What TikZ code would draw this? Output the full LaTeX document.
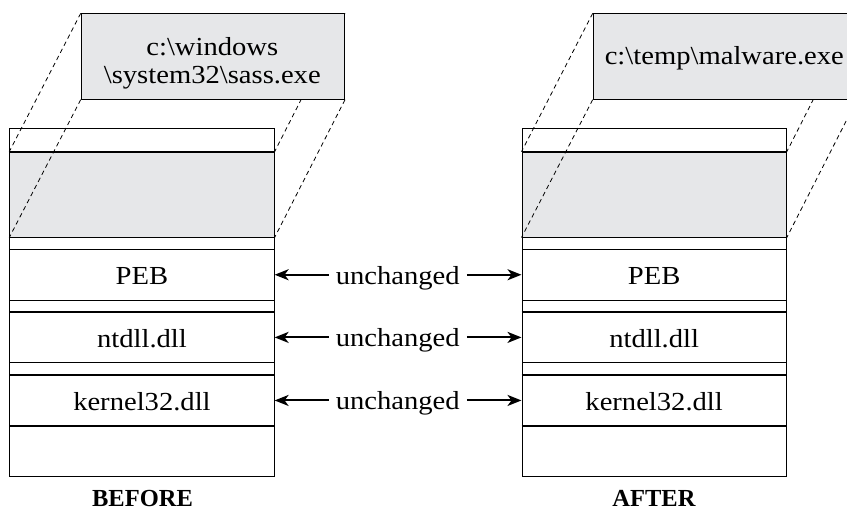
\documentclass[tikz,border=0pt]{standalone}
\usepackage{fontspec}
\setmainfont{Liberation Serif}[FakeStretch=1.1]
\newfontfamily\capfont{Liberation Serif}
\usetikzlibrary{arrows.meta}
\definecolor{shade}{RGB}{230,231,233}
\begin{document}
\begin{tikzpicture}[x=1pt,y=-1pt,
  font=\fontsize{26}{27.7}\selectfont,
  thinline/.style={line width=0.8pt},
  thickline/.style={line width=1.8pt},
  guide/.style={dash pattern=on 4.5pt off 3.5pt, line width=0.8pt},
  sect/.style={draw, thinline, minimum width=264.5pt, inner sep=0pt, anchor=north west},
  labsect/.style={sect, text height=19.4pt, text depth=0pt},
  namebox/.style={draw, line width=1pt, fill=shade, minimum width=263.3pt, minimum height=85.4pt, inner sep=0pt, anchor=north west},
  txt/.style={anchor=base},
  twoway/.style={line width=2pt, -{Stealth[length=14pt,width=11pt,inset=4pt]}},
  caption/.style={anchor=base, inner sep=0pt, font=\capfont\bfseries\fontsize{24.5}{28}\selectfont}]
\useasboundingbox (0,0) rectangle (847,511);
\clip (0,0) rectangle (847,511);

% ---------- left column ----------
\node[sect, minimum height=23.4pt] (Ltop) at (9.3,128.3) {};
\node[sect, fill=shade, minimum height=85pt] (Limg) at (9.3,151.7) {};
\node[sect, minimum height=12pt] (Lg1) at (9.3,236.7) {};
\node[labsect, minimum height=51.3pt] (Lpeb) at (9.3,248.7) {PEB};
\node[sect, minimum height=11.7pt] (Lg2) at (9.3,300) {};
\node[labsect, minimum height=50.6pt] (Lnt) at (9.3,311.7) {ntdll.dll};
\node[sect, minimum height=12.5pt] (Lg3) at (9.3,362.3) {};
\node[labsect, minimum height=50.5pt] (Lk) at (9.3,374.8) {kernel32.dll};
\node[sect, minimum height=50.2pt] (Lbot) at (9.3,425.3) {};

% ---------- right column ----------
\node[sect, minimum height=23.4pt] (Rtop) at (521.5,128.3) {};
\node[sect, fill=shade, minimum height=85pt] (Rimg) at (521.5,151.7) {};
\node[sect, minimum height=12pt] (Rg1) at (521.5,236.7) {};
\node[labsect, minimum height=51.3pt] (Rpeb) at (521.5,248.7) {PEB};
\node[sect, minimum height=11.7pt] (Rg2) at (521.5,300) {};
\node[labsect, minimum height=50.6pt] (Rnt) at (521.5,311.7) {ntdll.dll};
\node[sect, minimum height=12.5pt] (Rg3) at (521.5,362.3) {};
\node[labsect, minimum height=50.5pt] (Rk) at (521.5,374.8) {kernel32.dll};
\node[sect, minimum height=50.2pt] (Rbot) at (521.5,425.3) {};

% ---------- boxes positions (coordinates for guides) ----------
\coordinate (LboxNW) at (80.7,13.3);
\coordinate (RboxNW) at (592.7,13.3);

% dashed guides (drawn before the name boxes)
\node[namebox, draw=none, fill=none] (Lghost) at (LboxNW) {};
\node[namebox, draw=none, fill=none] (Rghost) at (RboxNW) {};
\foreach \s in {L,R}{
  \draw[guide] (\s ghost.north west) -- (\s img.north west);
  \draw[guide] (\s ghost.south west) -- (\s img.south west);
  \draw[guide] (\s ghost.south east) -- (\s img.south east);
  \draw[guide] (\s ghost.north east) -- (\s img.north east);
}

% name boxes
\node[namebox] (Lbox) at (LboxNW) {};
\node[namebox] (Rbox) at (RboxNW) {};
\node[txt] (Lname) at (212.3,83.3) {\begin{tabular}[b]{@{}c@{}}c:\textbackslash windows\\ \textbackslash system32\textbackslash sass.exe\end{tabular}};
\node[txt] (Rname) at (724.3,65) {c:\textbackslash temp\textbackslash malware.exe};

% thick separators
\foreach \n in {Limg,Lnt,Lk,Rimg,Rnt,Rk}{
  \draw[thickline] (\n.north west) -- (\n.north east);
}
\foreach \n in {Limg,Lk,Rimg,Rk}{
  \draw[thickline] (\n.south west) -- (\n.south east);
}

% unchanged arrows
\node[txt, inner xsep=7pt] (U1) at (397.7,284.0) {unchanged};
\node[txt, inner xsep=7pt] (U2) at (397.7,346.7) {unchanged};
\node[txt, inner xsep=7pt] (U3) at (397.7,409.7) {unchanged};
\draw[twoway] (U1.west |- Lpeb.east) -- (Lpeb.east);
\draw[twoway] (U1.east |- Rpeb.west) -- (Rpeb.west);
\draw[twoway] (U2.west |- Lnt.east) -- (Lnt.east);
\draw[twoway] (U2.east |- Rnt.west) -- (Rnt.west);
\draw[twoway] (U3.west |- Lk.east) -- (Lk.east);
\draw[twoway] (U3.east |- Rk.west) -- (Rk.west);

% captions
\node[caption] (before) at (142.5,506) {BEFORE};
\node[caption] (after) at (654,506) {AFTER};
\end{tikzpicture}
\end{document}
